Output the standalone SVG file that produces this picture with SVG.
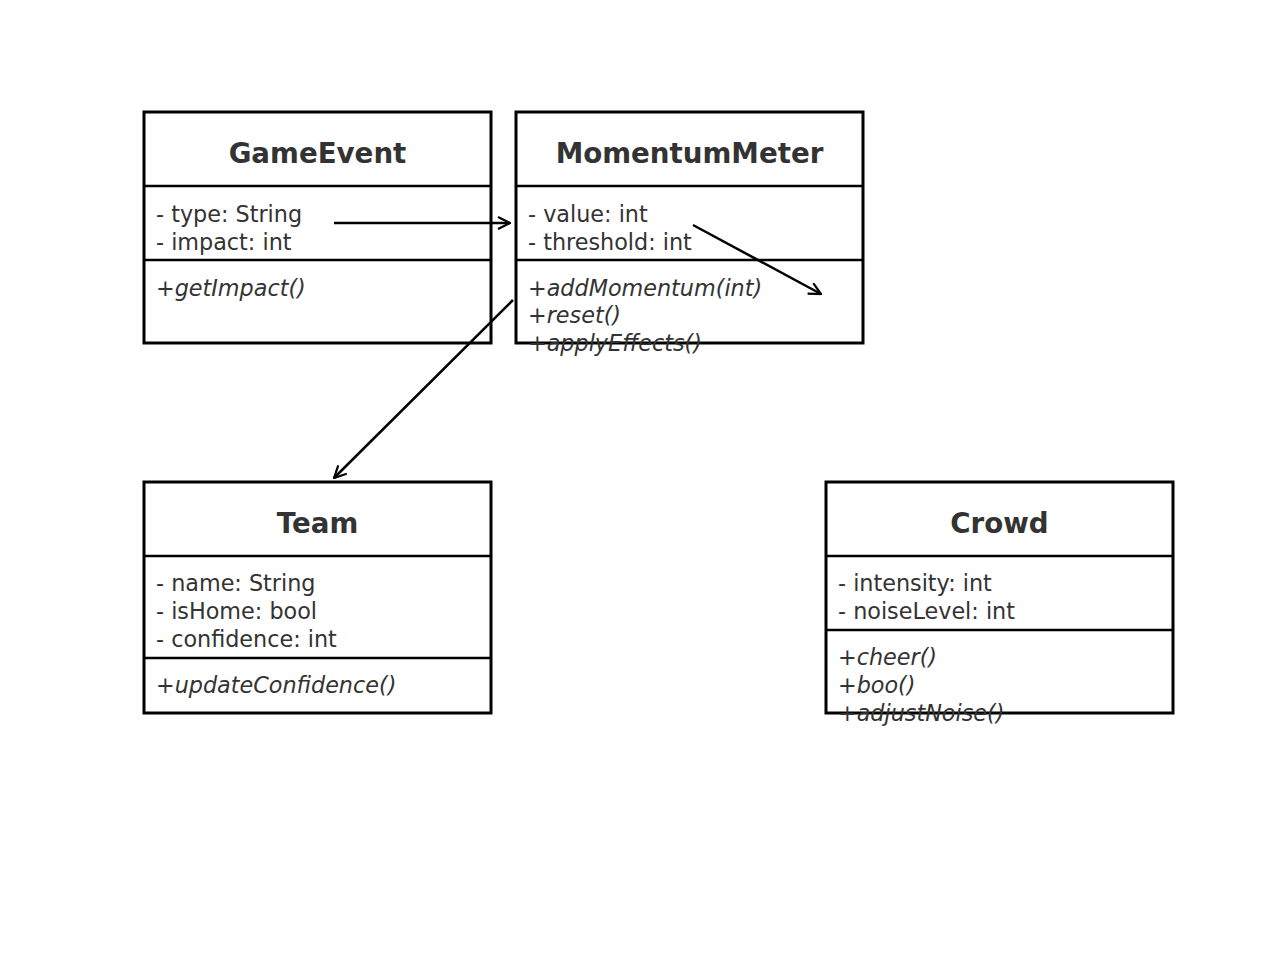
<svg xmlns="http://www.w3.org/2000/svg" width="1280" height="964" viewBox="0 0 1280 964">
<defs>
<style>
.box{fill:#fff;stroke:#000;stroke-width:3}
.div{stroke:#000;stroke-width:2.5}
.title{font-family:"DejaVu Sans",sans-serif;font-size:27.7px;font-weight:bold;fill:#333;text-anchor:middle}
.attr{font-family:"DejaVu Sans",sans-serif;font-size:22.3px;fill:#333}
.meth{font-family:"DejaVu Sans",sans-serif;font-size:22.3px;font-style:italic;fill:#333}
.conn{stroke:#000;stroke-width:2.5;fill:none}
</style>
<marker id="arr" viewBox="0 0 14 14" refX="13" refY="7" markerWidth="14" markerHeight="14" markerUnits="userSpaceOnUse" orient="auto">
<path d="M1,1 L13,7 L1,13" fill="none" stroke="#000" stroke-width="2.2"/>
</marker>
</defs>
<rect width="1280" height="964" fill="#fff"/>
<g id="GameEvent">
<rect class="box" x="144" y="112" width="347" height="231"/>
<line class="div" x1="144" y1="186" x2="491" y2="186"/>
<line class="div" x1="144" y1="260" x2="491" y2="260"/>
<text class="title" x="317.5" y="163">GameEvent</text>
<text class="attr" x="156" y="222">- type: String</text>
<text class="attr" x="156" y="250">- impact: int</text>
<text class="meth" x="156" y="296">+getImpact()</text>
</g>
<g id="MomentumMeter">
<rect class="box" x="516" y="112" width="347" height="231"/>
<line class="div" x1="516" y1="186" x2="863" y2="186"/>
<line class="div" x1="516" y1="260" x2="863" y2="260"/>
<text class="title" x="689.5" y="163">MomentumMeter</text>
<text class="attr" x="528" y="222">- value: int</text>
<text class="attr" x="528" y="250">- threshold: int</text>
<text class="meth" x="528" y="296">+addMomentum(int)</text>
<text class="meth" x="528" y="323">+reset()</text>
<text class="meth" x="528" y="351">+applyEffects()</text>
</g>
<g id="Team">
<rect class="box" x="144" y="482" width="347" height="231"/>
<line class="div" x1="144" y1="556" x2="491" y2="556"/>
<line class="div" x1="144" y1="658" x2="491" y2="658"/>
<text class="title" x="317.5" y="533">Team</text>
<text class="attr" x="156" y="591">- name: String</text>
<text class="attr" x="156" y="619">- isHome: bool</text>
<text class="attr" x="156" y="647">- confidence: int</text>
<text class="meth" x="156" y="693">+updateConfidence()</text>
</g>
<g id="Crowd">
<rect class="box" x="826" y="482" width="347" height="231"/>
<line class="div" x1="826" y1="556" x2="1173" y2="556"/>
<line class="div" x1="826" y1="630" x2="1173" y2="630"/>
<text class="title" x="999.5" y="533">Crowd</text>
<text class="attr" x="838" y="591">- intensity: int</text>
<text class="attr" x="838" y="619">- noiseLevel: int</text>
<text class="meth" x="838" y="665">+cheer()</text>
<text class="meth" x="838" y="693">+boo()</text>
<text class="meth" x="838" y="721">+adjustNoise()</text>
</g>
<g id="connectors">
<line class="conn" x1="334" y1="223" x2="510" y2="223" marker-end="url(#arr)"/>
<line class="conn" x1="693" y1="225" x2="821" y2="294" marker-end="url(#arr)"/>
<line class="conn" x1="513" y1="300" x2="334" y2="478" marker-end="url(#arr)"/>
</g>
</svg>
